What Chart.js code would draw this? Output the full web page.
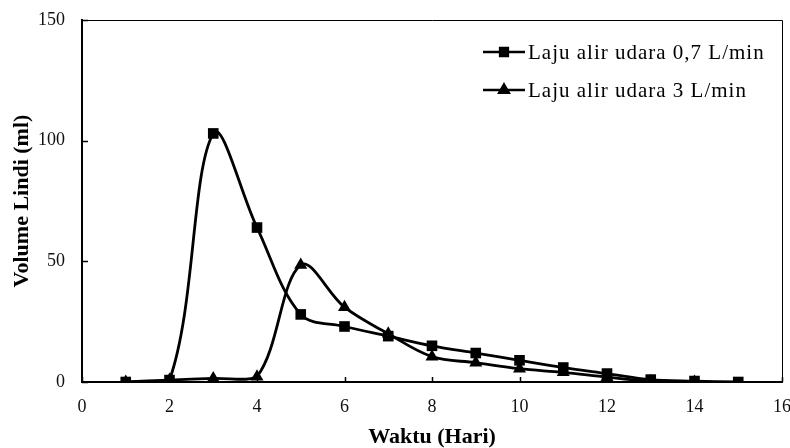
<!DOCTYPE html>
<html>
<head>
<meta charset="utf-8">
<script src="https://cdn.jsdelivr.net/npm/chart.js@4/dist/chart.umd.min.js"></script>
<style>
  html, body { margin: 0; padding: 0; background: #fff; }
  #wrap { width: 790px; height: 448px; }
</style>
</head>
<body>
<div id="wrap"><canvas id="chart" width="790" height="448"></canvas></div>
<script>
// Data
const days07 = [1, 2, 3, 4, 5, 6, 7, 8, 9, 10, 11, 12, 13, 14, 15];
const vol07 = [0, 0.8, 103, 64, 28, 23, 19, 15, 12, 9, 6, 3.5, 1, 0.4, 0];
const days3 = [1, 2, 3, 4, 5, 6, 7, 8, 9, 10, 11, 12, 13, 14];
const vol3 = [0, 0.8, 1.5, 2.2, 48.5, 31, 20, 10.5, 8, 5.5, 4, 2, 0.3, 0];
const seriesLabels = ['Laju alir udara 0,7 L/min', 'Laju alir udara 3 L/min'];
const xTitle = 'Waktu (Hari)';
const yTitle = 'Volume Lindi (ml)';

const serif = "'Liberation Serif', 'Times New Roman', serif";

const toPoints = (xs, ys) => xs.map((x, i) => ({ x: x, y: ys[i] }));

// box border + inward tick marks
const frame = {
    id: 'frame',
    afterDraw(chart) {
        const { ctx, chartArea: a, scales } = chart;
        ctx.save();
        ctx.strokeStyle = '#000';
        ctx.lineWidth = 1;
        ctx.beginPath();
        ctx.moveTo(a.left, a.top + 0.5);
        ctx.lineTo(a.right + 0.5, a.top + 0.5);
        ctx.lineTo(a.right + 0.5, a.bottom);
        ctx.stroke();
        ctx.lineWidth = 1.5;
        ctx.beginPath();
        scales.x.ticks.forEach(t => {
            const px = Math.round(scales.x.getPixelForValue(t.value)) + 0.5;
            ctx.moveTo(px, a.bottom);
            ctx.lineTo(px, a.bottom - 5);
        });
        scales.y.ticks.forEach(t => {
            const py = Math.round(scales.y.getPixelForValue(t.value)) + 0.5;
            ctx.moveTo(a.left, py);
            ctx.lineTo(a.left + 6, py);
        });
        ctx.stroke();
        ctx.restore();
    }
};

// legend drawn inside the plot, top right
const innerLegend = {
    id: 'innerLegend',
    afterDraw(chart) {
        const { ctx } = chart;
        const rows = [52, 90];
        ctx.save();
        chart.data.datasets.forEach((ds, i) => {
            const y = rows[i];
            ctx.strokeStyle = '#000';
            ctx.lineWidth = 2.5;
            ctx.beginPath();
            ctx.moveTo(483, y);
            ctx.lineTo(525, y);
            ctx.stroke();
            Chart.helpers.drawPoint(ctx, {
                pointStyle: ds.pointStyle, radius: 5.5, borderWidth: 1
            }, 504, y);
            ctx.fillStyle = '#000';
            ctx.font = '21px ' + serif;
            ctx.letterSpacing = '1px';
            ctx.textBaseline = 'middle';
            ctx.textAlign = 'left';
            ctx.fillText(ds.label, 528, y + 1);
        });
        ctx.restore();
    }
};

new Chart(document.getElementById('chart').getContext('2d'), {
    type: 'line',
    data: {
        datasets: [
            {
                label: seriesLabels[0],
                data: toPoints(days07, vol07),
                borderColor: '#000',
                backgroundColor: '#000',
                borderWidth: 2.8,
                pointStyle: 'rect',
                pointRadius: 7.5,
                pointBorderWidth: 0,
                tension: 0.35
            },
            {
                label: seriesLabels[1],
                data: toPoints(days3, vol3),
                borderColor: '#000',
                backgroundColor: '#000',
                borderWidth: 2.8,
                pointStyle: 'triangle',
                pointRadius: 7.5,
                pointBorderWidth: 0,
                tension: 0.35
            }
        ]
    },
    options: {
        responsive: false,
        devicePixelRatio: 1,
        animation: false,
        layout: { padding: { top: 20, right: 8, left: 0, bottom: 0 } },
        plugins: { legend: { display: false }, tooltip: { enabled: false } },
        scales: {
            x: {
                type: 'linear',
                min: 0, max: 16,
                ticks: { stepSize: 2, color: '#111', padding: 14, font: { family: serif, size: 18 } },
                grid: { display: true, drawOnChartArea: false, drawTicks: false },
                border: { color: '#000', width: 2 },
                title: { display: true, text: xTitle, color: '#000', padding: { top: 0, bottom: 0 },
                         font: { family: serif, size: 22, weight: 'bold', lineHeight: 1 } },
                afterFit(scale) {
                    scale.height = 66;
                    scale.paddingLeft = 0;
                    scale.paddingRight = 0;
                }
            },
            y: {
                min: 0, max: 150,
                ticks: { stepSize: 50, color: '#111', padding: 17, font: { family: serif, size: 18 } },
                grid: { display: true, drawOnChartArea: false, drawTicks: false },
                border: { color: '#000', width: 2 },
                title: { display: true, text: yTitle, color: '#000', padding: { top: 11, bottom: 0 },
                         font: { family: serif, size: 22, weight: 'bold', lineHeight: 1 } },
                afterFit(scale) {
                    scale.width = 82;
                    scale.paddingTop = 0;
                    scale.paddingBottom = 0;
                }
            }
        }
    },
    plugins: [frame, innerLegend]
});
</script>
</body>
</html>
